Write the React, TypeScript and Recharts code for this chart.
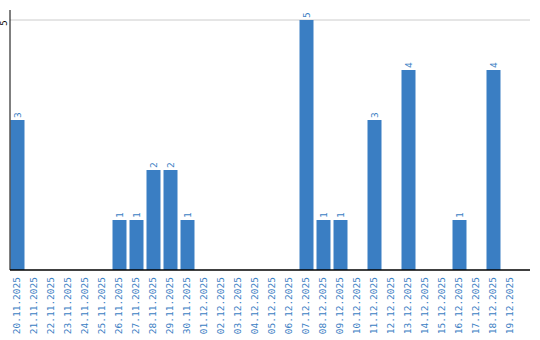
import React from 'react';
import { BarChart, Bar, XAxis, YAxis, CartesianGrid, LabelList } from 'recharts';

// dates shown on the category axis
const dates = [
  '20.11.2025', '21.11.2025', '22.11.2025', '23.11.2025', '24.11.2025',
  '25.11.2025', '26.11.2025', '27.11.2025', '28.11.2025', '29.11.2025',
  '30.11.2025', '01.12.2025', '02.12.2025', '03.12.2025', '04.12.2025',
  '05.12.2025', '06.12.2025', '07.12.2025', '08.12.2025', '09.12.2025',
  '10.12.2025', '11.12.2025', '12.12.2025', '13.12.2025', '14.12.2025',
  '15.12.2025', '16.12.2025', '17.12.2025', '18.12.2025', '19.12.2025',
];

const counts = [
  3, 0, 0, 0, 0, 0, 1, 1, 2, 2,
  1, 0, 0, 0, 0, 0, 0, 5, 1, 1,
  0, 3, 0, 4, 0, 0, 1, 0, 4, 0,
];

const yTicks = [5];

const chartData = dates.map((d, i) => ({ date: d, count: counts[i] }));

const BLUE = '#3a7ec3';
const FONT = '"DejaVu Sans Mono", monospace';

const DateTick = ({ x, y, payload }: any) => (
  <text
    transform={`translate(${x},${y - 1}) rotate(-90)`}
    textAnchor="end"
    dy="0.35em"
    fill={BLUE}
    fontSize={9.5}
    fontFamily={FONT}
  >
    {payload.value}
  </text>
);

const CountTick = ({ y, payload }: any) => (
  <text
    transform={`translate(4,${y + 3}) rotate(-90)`}
    textAnchor="middle"
    dy="0.35em"
    fill="#000"
    fontSize={9}
    fontFamily={FONT}
  >
    {payload.value}
  </text>
);

const ValueLabel = ({ x, y, width, value }: any) => {
  if (!value) return null;
  return (
    <text
      transform={`translate(${x + width / 2},${y - 2}) rotate(-90)`}
      textAnchor="start"
      dy="0.35em"
      fill={BLUE}
      fontSize={9.5}
      fontFamily={FONT}
    >
      {value}
    </text>
  );
};

export default function App() {
  return (
    <div style={{ position: 'absolute', left: 0, top: 0, background: '#fff' }}>
      <BarChart
        width={540}
        height={340}
        data={chartData}
        margin={{ top: 10, right: 10, bottom: 0, left: 0 }}
        style={{ overflow: 'visible' }}
      >
        <CartesianGrid vertical={false} stroke="#cccccc" horizontalValues={yTicks} />
        <XAxis
          dataKey="date"
          height={70}
          interval={0}
          padding={{ left: -1.5, right: 11.5 }}
          axisLine={{ stroke: '#000', strokeWidth: 1.5 }}
          tickLine={false}
          tick={<DateTick />}
        />
        <YAxis
          width={10}
          domain={[0, 5.2]}
          ticks={yTicks}
          axisLine={{ stroke: '#000', strokeWidth: 1 }}
          tickLine={false}
          tick={<CountTick />}
        />
        <Bar dataKey="count" fill={BLUE} barSize={14} isAnimationActive={false}>
          <LabelList dataKey="count" content={<ValueLabel />} />
        </Bar>
      </BarChart>
    </div>
  );
}
